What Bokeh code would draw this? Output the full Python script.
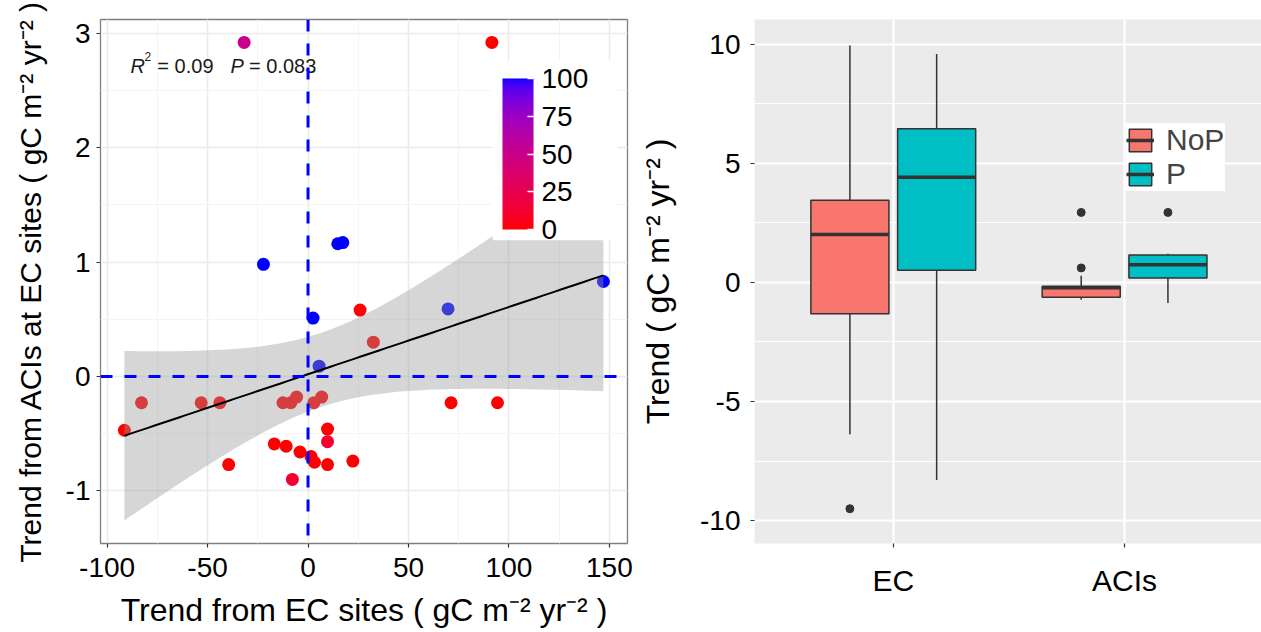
import numpy as np
from bokeh.plotting import figure
from bokeh.models import (Range1d, ColumnDataSource, Span, ColorBar, LinearColorMapper,
                          FixedTicker, SingleIntervalTicker, Legend, LegendItem, BoxAnnotation)
from bokeh.layouts import row
from bokeh.core.properties import value
from bokeh.embed import file_html
from bokeh.resources import INLINE

# ---------------- data: left scatter ----------------
ec_trend = [-31.8, 91.5, -22.2, 14.8, 17.3, 2.5, 69.7, 147.0, 25.9, 32.5, 5.5,
            -82.9, -53.2, -43.9, -12.5, -8.6, -5.7, 2.9, 6.8, 71.2, 94.3,
            -91.4, 9.7, 9.7, -16.8, -10.9, -4.0, 1.5, 3.2, 9.7, 22.3, -39.5, -7.8]
aci_trend = [2.92, 2.92, 0.98, 1.16, 1.17, 0.51, 0.59, 0.83, 0.58, 0.30, 0.09,
             -0.23, -0.23, -0.23, -0.23, -0.23, -0.18, -0.23, -0.18, -0.23, -0.23,
             -0.47, -0.46, -0.57, -0.59, -0.61, -0.66, -0.70, -0.75, -0.77, -0.74, -0.77, -0.90]
colour_val = [50, 0, 100, 100, 100, 100, 100, 100, 0, 0, 100,
              0, 0, 0, 0, 0, 0, 0, 0, 0, 0,
              0, 0, 12, 0, 0, 0, 0, 0, 0, 0, 0, 12]
colour_ticks = [0, 25, 50, 75, 100]
stat_r2 = "0.09"
stat_p = "0.083"

# ---------------- data: right boxplot ----------------
categories = ["EC", "ACIs"]
groups = ["NoP", "P"]
group_colors = ["#F8766D", "#00BFC4"]
box_cat = ["EC", "EC", "ACIs", "ACIs"]
box_grp = ["NoP", "P", "NoP", "P"]
box_low = [-6.37, -8.29, -0.73, -0.86]
box_q1 = [-1.31, 0.51, -0.62, 0.19]
box_med = [2.01, 4.42, -0.22, 0.74]
box_q3 = [3.45, 6.45, -0.16, 1.15]
box_high = [9.95, 9.59, 0.28, 1.21]
out_cat = ["EC", "ACIs", "ACIs", "ACIs"]
out_grp = ["NoP", "NoP", "NoP", "P"]
out_val = [-9.5, 0.61, 2.94, 2.94]

FONT = "Liberation Sans"

# ---------------- red -> blue gradient in CIELAB (like ggplot) ----------------
def _srgb_to_lab(rgb):
    c = np.array(rgb, dtype=float) / 255.0
    lin = np.where(c <= 0.04045, c / 12.92, ((c + 0.055) / 1.055) ** 2.4)
    M = np.array([[0.4124564, 0.3575761, 0.1804375],
                  [0.2126729, 0.7151522, 0.0721750],
                  [0.0193339, 0.1191920, 0.9503041]])
    X, Y, Z = M @ lin
    Xn, Yn, Zn = 0.95047, 1.0, 1.08883
    d = 6 / 29
    f = lambda t: t ** (1 / 3) if t > d ** 3 else t / (3 * d * d) + 4 / 29
    fx, fy, fz = f(X / Xn), f(Y / Yn), f(Z / Zn)
    return np.array([116 * fy - 16, 500 * (fx - fy), 200 * (fy - fz)])

def _lab_to_hex(lab):
    L, a, b = lab
    d = 6 / 29
    fy = (L + 16) / 116
    fx = fy + a / 500
    fz = fy - b / 200
    finv = lambda t: t ** 3 if t > d else 3 * d * d * (t - 4 / 29)
    XYZ = np.array([0.95047 * finv(fx), finv(fy), 1.08883 * finv(fz)])
    Minv = np.array([[3.2404542, -1.5371385, -0.4985314],
                     [-0.9692660, 1.8760108, 0.0415560],
                     [0.0556434, -0.2040259, 1.0572252]])
    lin = np.clip(Minv @ XYZ, 0, 1)
    c = np.where(lin <= 0.0031308, 12.92 * lin, 1.055 * lin ** (1 / 2.4) - 0.055)
    c = np.clip(np.round(c * 255), 0, 255).astype(int)
    return "#%02x%02x%02x" % tuple(c)

lab_lo = _srgb_to_lab((255, 0, 0))
lab_hi = _srgb_to_lab((0, 0, 255))
palette = [_lab_to_hex(lab_lo + (lab_hi - lab_lo) * t) for t in np.linspace(0, 1, 256)]
mapper = LinearColorMapper(palette=palette, low=0, high=100)

# ---------------- linear fit with 95% CI (geom_smooth(method = "lm")) ----------------
xa = np.array(ec_trend)
ya = np.array(aci_trend)
n = len(xa)
xbar = xa.mean()
Sxx = ((xa - xbar) ** 2).sum()
slope = ((xa - xbar) * (ya - ya.mean())).sum() / Sxx
icpt = ya.mean() - slope * xbar
s_res = np.sqrt(((ya - (icpt + slope * xa)) ** 2).sum() / (n - 2))
T95 = 2.0395
xs = np.linspace(xa.min(), xa.max(), 80)
fit = icpt + slope * xs
hw = T95 * s_res * np.sqrt(1.0 / n + (xs - xbar) ** 2 / Sxx)
fit_src = ColumnDataSource(dict(x=xs, fit=fit, lo=fit - hw, hi=fit + hw))

def hyphen_labels(ticks):
    return {t: ("-" + str(abs(t))) for t in ticks if t < 0}

# ---------------- left figure ----------------
p1 = figure(width=636, height=630, x_range=Range1d(-103.3, 159.0), y_range=Range1d(-1.46, 3.12),
            output_backend="svg", toolbar_location=None,
            min_border_left=100, min_border_right=9, min_border_top=19, min_border_bottom=84)
p1.background_fill_color = "white"
p1.outline_line_color = "#7f7f7f"
p1.outline_line_width = 1.3
p1.xaxis.ticker = SingleIntervalTicker(interval=50, num_minor_ticks=2)
p1.yaxis.ticker = SingleIntervalTicker(interval=1, num_minor_ticks=2)
p1.xaxis.major_label_overrides = hyphen_labels([-100, -50])
p1.yaxis.major_label_overrides = hyphen_labels([-1])
p1.xgrid.grid_line_color = "#EBEBEB"
p1.ygrid.grid_line_color = "#EBEBEB"
p1.grid.grid_line_width = 1.6
p1.xgrid.minor_grid_line_color = "#F4F4F4"
p1.ygrid.minor_grid_line_color = "#F4F4F4"
p1.grid.minor_grid_line_width = 1.0

src = ColumnDataSource(dict(x=ec_trend, y=aci_trend, c=colour_val))
p1.scatter("x", "y", source=src, size=13, fill_color={"field": "c", "transform": mapper},
           line_color=None)
p1.varea(x="x", y1="lo", y2="hi", source=fit_src, fill_color="#999999", fill_alpha=0.4)
p1.line("x", "fit", source=fit_src, line_color="black", line_width=2)

for dim in ("width", "height"):
    p1.add_layout(Span(location=0, dimension=dim, line_color="#0000FF", line_width=3,
                       line_dash="12 12"))

# stats annotation
txt_kw = dict(text_font=value(FONT), text_color="#1a1a1a", text_baseline="alphabetic",
              text_align="left")
p1.text(x=[-88.4], y=[2.71], text=["R"], text_font_size="20px", text_font_style="italic", **txt_kw)
p1.text(x=[-81.4], y=[2.80], text=["2"], text_font_size="12px", **txt_kw)
p1.text(x=[-75.0], y=[2.71], text=["= " + stat_r2], text_font_size="20px", **txt_kw)
p1.text(x=[-38.6], y=[2.71], text=["P"], text_font_size="20px", text_font_style="italic", **txt_kw)
p1.text(x=[-29.4], y=[2.71], text=["= " + stat_p], text_font_size="20px", **txt_kw)

# white legend background of the colour guide (covers grid + band like ggplot's legend box)
p1.add_layout(BoxAnnotation(left=92.2, right=154.0, bottom=1.19, top=2.76,
                            fill_color="white", fill_alpha=1.0, line_color=None))
cb = ColorBar(color_mapper=mapper, location=(392, 304), width=31, height=151, padding=10,
              margin=0, ticker=FixedTicker(ticks=colour_ticks),
              major_label_text_font_size="28px", major_label_text_font=FONT,
              major_label_text_color="black", major_tick_line_color="white",
              major_tick_line_width=1.5, major_tick_in=6, major_tick_out=0,
              minor_tick_line_color=None, bar_line_color=None, border_line_color=None,
              background_fill_color="white", background_fill_alpha=1.0, label_standoff=8)
p1.add_layout(cb)

p1.xaxis.axis_label = "Trend from EC sites ( gC m\u207b\u00b2 yr\u207b\u00b2 )"
p1.yaxis.axis_label = "Trend from ACIs at EC sites ( gC m\u207b\u00b2 yr\u207b\u00b2 )"

# ---------------- right figure ----------------
p2 = figure(width=625, height=630, x_range=Range1d(0.4, 2.592), y_range=Range1d(-10.96, 11.04),
            output_backend="svg", toolbar_location=None,
            min_border_left=118, min_border_right=0, min_border_top=19, min_border_bottom=67)
p2.background_fill_color = "#EBEBEB"
p2.outline_line_color = None
p2.xaxis.ticker = FixedTicker(ticks=[i + 1 for i in range(len(categories))])
p2.xaxis.major_label_overrides = {i + 1: c for i, c in enumerate(categories)}
p2.yaxis.ticker = SingleIntervalTicker(interval=5, num_minor_ticks=2)
p2.yaxis.major_label_overrides = hyphen_labels([-10, -5])
p2.grid.grid_line_color = "white"
p2.grid.grid_line_width = 2.2
p2.ygrid.minor_grid_line_color = "white"
p2.ygrid.minor_grid_line_width = 1.1

BOX_W = 0.3375
DODGE = 0.1875
legend_items = []
for gi, (g, col) in enumerate(zip(groups, group_colors)):
    off = -DODGE if gi == 0 else DODGE
    idx = [i for i, gg in enumerate(box_grp) if gg == g]
    xpos = [categories.index(box_cat[i]) + 1 + off for i in idx]
    bs = ColumnDataSource(dict(
        x=xpos, x0=[v - BOX_W / 2 for v in xpos], x1=[v + BOX_W / 2 for v in xpos],
        low=[box_low[i] for i in idx], q1=[box_q1[i] for i in idx],
        med=[box_med[i] for i in idx], q3=[box_q3[i] for i in idx],
        high=[box_high[i] for i in idx]))
    p2.segment(x0="x", x1="x", y0="low", y1="high", source=bs, line_color="#333333",
               line_width=1.5)
    rb = p2.vbar(x="x", width=BOX_W, bottom="q1", top="q3", source=bs, fill_color=col,
                 line_color="#333333", line_width=1.5)
    rm = p2.segment(x0="x0", x1="x1", y0="med", y1="med", source=bs, line_color="#333333",
                    line_width=3.5)
    oidx = [i for i, gg in enumerate(out_grp) if gg == g]
    os_ = ColumnDataSource(dict(x=[categories.index(out_cat[i]) + 1 + off for i in oidx],
                                y=[out_val[i] for i in oidx]))
    p2.scatter("x", "y", source=os_, size=8, fill_color="#333333", line_color="#333333")
    legend_items.append(LegendItem(label=g, renderers=[rb, rm]))

leg = Legend(items=legend_items, location=(372, 352), background_fill_color="white",
             background_fill_alpha=1.0, border_line_color=None, label_text_font=FONT,
             label_text_font_size="30px", glyph_width=28, glyph_height=28,
             label_height=30, label_width=59, padding=11, spacing=0, label_standoff=12,
             margin=0)
p2.add_layout(leg)
p2.yaxis.axis_label = "Trend ( gC m\u207b\u00b2 yr\u207b\u00b2 )"

# ---------------- shared axis styling ----------------
for p in (p1, p2):
    p.axis.axis_line_color = None
    p.axis.major_tick_line_color = "#333333"
    p.axis.major_tick_line_width = 1.2
    p.axis.major_tick_out = 4
    p.axis.major_tick_in = 0
    p.axis.minor_tick_line_color = None
    p.axis.major_label_text_font = FONT
    p.axis.major_label_text_font_size = "28px"
    p.axis.major_label_text_color = "black"
    p.axis.axis_label_text_font = FONT
    p.axis.axis_label_text_font_size = "32px"
    p.axis.axis_label_text_font_style = "normal"
    p.axis.axis_label_text_color = "black"
    p.axis.major_label_standoff = 4

p1.yaxis.axis_label_text_font_size = "30px"
p1.yaxis.major_label_standoff = 6
p1.yaxis.axis_label_standoff = 16
p1.xaxis.major_label_standoff = 10
p1.xaxis.axis_label_standoff = 12
p2.yaxis.major_label_standoff = 10
p2.yaxis.axis_label_standoff = 21
p2.xaxis.major_label_text_font_size = "30px"
p2.xaxis.major_label_standoff = 16

layout = row(p1, p2)
open("out.html", "w").write(file_html(layout, INLINE))
